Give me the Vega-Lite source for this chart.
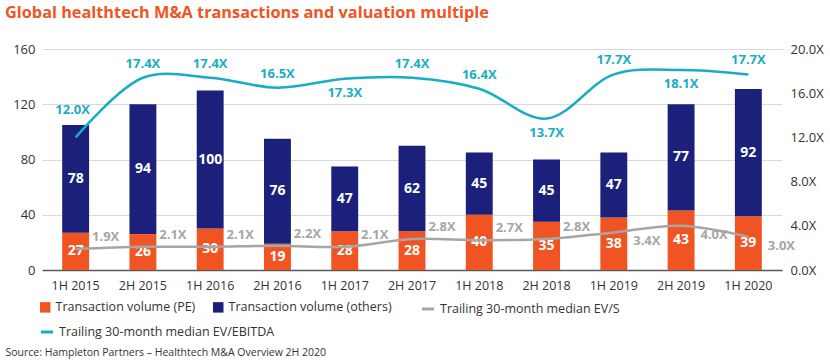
{
  "$schema": "https://vega.github.io/schema/vega-lite/v6.json",
  "width": 740,
  "height": 221,
  "autosize": "none",
  "padding": {"left": 42, "top": 49, "right": 48, "bottom": 90},
  "background": "white",
  "config": {
    "font": "Open Sans",
    "view": {"stroke": null},
    "axis": {"labelFont": "Open Sans", "labelColor": "#333333", "labelFontSize": 13, "ticks": false, "domain": false},
    "legend": {"title": null, "labelFontSize": 12.5, "labelColor": "#333333", "labelFont": "Open Sans", "labelLimit": 0, "orient": "none", "direction": "horizontal"}
  },
  "title": {
    "text": "Global healthtech M&A transactions and valuation multiple",
    "anchor": "start",
    "frame": "group",
    "dx": -37,
    "offset": 22,
    "fontSize": 16.3,
    "fontWeight": "bold",
    "font": "Open Sans",
    "color": "#F05423"
  },
  "datasets": {
    "bars": [
      {"period": "1H 2015", "series": "Transaction volume (PE)", "value": 27},
      {"period": "1H 2015", "series": "Transaction volume (others)", "value": 78},
      {"period": "2H 2015", "series": "Transaction volume (PE)", "value": 26},
      {"period": "2H 2015", "series": "Transaction volume (others)", "value": 94},
      {"period": "1H 2016", "series": "Transaction volume (PE)", "value": 30},
      {"period": "1H 2016", "series": "Transaction volume (others)", "value": 100},
      {"period": "2H 2016", "series": "Transaction volume (PE)", "value": 19},
      {"period": "2H 2016", "series": "Transaction volume (others)", "value": 76},
      {"period": "1H 2017", "series": "Transaction volume (PE)", "value": 28},
      {"period": "1H 2017", "series": "Transaction volume (others)", "value": 47},
      {"period": "2H 2017", "series": "Transaction volume (PE)", "value": 28},
      {"period": "2H 2017", "series": "Transaction volume (others)", "value": 62},
      {"period": "1H 2018", "series": "Transaction volume (PE)", "value": 40},
      {"period": "1H 2018", "series": "Transaction volume (others)", "value": 45},
      {"period": "2H 2018", "series": "Transaction volume (PE)", "value": 35},
      {"period": "2H 2018", "series": "Transaction volume (others)", "value": 45},
      {"period": "1H 2019", "series": "Transaction volume (PE)", "value": 38},
      {"period": "1H 2019", "series": "Transaction volume (others)", "value": 47},
      {"period": "2H 2019", "series": "Transaction volume (PE)", "value": 43},
      {"period": "2H 2019", "series": "Transaction volume (others)", "value": 77},
      {"period": "1H 2020", "series": "Transaction volume (PE)", "value": 39},
      {"period": "1H 2020", "series": "Transaction volume (others)", "value": 92}
    ],
    "lines": [
      {"period": "1H 2015", "series": "Trailing 30-month median EV/S", "value": 1.9},
      {"period": "2H 2015", "series": "Trailing 30-month median EV/S", "value": 2.1},
      {"period": "1H 2016", "series": "Trailing 30-month median EV/S", "value": 2.1},
      {"period": "2H 2016", "series": "Trailing 30-month median EV/S", "value": 2.2},
      {"period": "1H 2017", "series": "Trailing 30-month median EV/S", "value": 2.1},
      {"period": "2H 2017", "series": "Trailing 30-month median EV/S", "value": 2.8},
      {"period": "1H 2018", "series": "Trailing 30-month median EV/S", "value": 2.7},
      {"period": "2H 2018", "series": "Trailing 30-month median EV/S", "value": 2.8},
      {"period": "1H 2019", "series": "Trailing 30-month median EV/S", "value": 3.4},
      {"period": "2H 2019", "series": "Trailing 30-month median EV/S", "value": 4.0},
      {"period": "1H 2020", "series": "Trailing 30-month median EV/S", "value": 3.0},
      {"period": "1H 2015", "series": "Trailing 30-month median EV/EBITDA", "value": 12.0},
      {"period": "2H 2015", "series": "Trailing 30-month median EV/EBITDA", "value": 17.4},
      {"period": "1H 2016", "series": "Trailing 30-month median EV/EBITDA", "value": 17.4},
      {"period": "2H 2016", "series": "Trailing 30-month median EV/EBITDA", "value": 16.5},
      {"period": "1H 2017", "series": "Trailing 30-month median EV/EBITDA", "value": 17.3},
      {"period": "2H 2017", "series": "Trailing 30-month median EV/EBITDA", "value": 17.4},
      {"period": "1H 2018", "series": "Trailing 30-month median EV/EBITDA", "value": 16.4},
      {"period": "2H 2018", "series": "Trailing 30-month median EV/EBITDA", "value": 13.7},
      {"period": "1H 2019", "series": "Trailing 30-month median EV/EBITDA", "value": 17.7},
      {"period": "2H 2019", "series": "Trailing 30-month median EV/EBITDA", "value": 18.1},
      {"period": "1H 2020", "series": "Trailing 30-month median EV/EBITDA", "value": 17.7}
    ]
  },
  "layer": [
    {
      "data": {"name": "bars"},
      "layer": [
        {
          "mark": {"type": "bar"},
          "encoding": {
            "x": {
              "field": "period", "type": "nominal", "sort": null,
              "scale": {"paddingInner": 0.6, "paddingOuter": 0.3},
              "axis": {
                "labelAngle": 0, "labelPadding": 9, "labelFontSize": 12.5,
                "domain": true, "domainColor": "#595959", "domainWidth": 1.5,
                "title": "Source: Hampleton Partners \u2013 Healthtech M&A Overview 2H 2020",
                "titleFontSize": 10.5, "titleFontWeight": "normal", "titleColor": "#333333",
                "titleAnchor": "start", "titleAlign": "left", "titleBaseline": "middle", "titleX": -37, "titleY": 82, "titleFont": "Open Sans"
              }
            },
            "y": {
              "field": "value", "type": "quantitative", "aggregate": "sum", "stack": "zero",
              "scale": {"domain": [0, 160]},
              "axis": {"values": [0, 40, 80, 120, 160], "title": null, "grid": true, "gridColor": "#d9d9d9", "labelPadding": 7}
            },
            "fill": {
              "field": "series", "type": "nominal",
              "scale": {
                "domain": ["Transaction volume (PE)", "Transaction volume (others)"],
                "range": ["#F05423", "#1B217B"]
              },
              "legend": {"legendX": -3, "legendY": 252, "symbolType": "square", "symbolSize": 110, "columnPadding": 16}
            },
            "order": {"field": "series", "sort": "ascending"}
          }
        },
        {
          "transform": [
            {"stack": "value", "groupby": ["period"], "sort": [{"field": "series", "order": "ascending"}], "as": ["v0", "v1"]},
            {"calculate": "(datum.v0 + datum.v1) / 2", "as": "mid"}
          ],
          "mark": {"type": "text", "color": "white", "fontWeight": "bold", "fontSize": 14, "baseline": "middle"},
          "encoding": {
            "x": {"field": "period", "type": "nominal", "sort": null},
            "y": {"field": "mid", "type": "quantitative"},
            "text": {"field": "value", "type": "quantitative"}
          }
        }
      ]
    },
    {
      "data": {"name": "lines"},
      "transform": [{"calculate": "format(datum.value, '.1f') + 'X'", "as": "label"}],
      "layer": [
        {
          "transform": [{"filter": "datum.series == 'Trailing 30-month median EV/S'"}],
          "mark": {"type": "line", "interpolate": "catmull-rom", "strokeWidth": 2.5},
          "encoding": {
            "x": {"field": "period", "type": "nominal", "sort": null},
            "y": {
              "field": "value", "type": "quantitative",
              "scale": {"domain": [0, 20]},
              "axis": {"orient": "right", "values": [0, 4, 8, 12, 16, 20], "labelExpr": "format(datum.value, '.1f') + 'X'", "title": null, "grid": false, "labelPadding": 8}
            },
            "stroke": {
              "field": "series", "type": "nominal",
              "scale": {"range": ["#A6A6A6"]},
              "legend": {"legendX": 378, "legendY": 252, "symbolType": "stroke", "symbolSize": 150, "symbolStrokeWidth": 3}
            }
          }
        },
        {
          "transform": [{"filter": "datum.series == 'Trailing 30-month median EV/EBITDA'"}],
          "mark": {"type": "line", "interpolate": "catmull-rom", "strokeWidth": 2.5},
          "encoding": {
            "x": {"field": "period", "type": "nominal", "sort": null},
            "y": {"field": "value", "type": "quantitative"},
            "color": {
              "field": "series", "type": "nominal",
              "scale": {"range": ["#17AEC3"]},
              "legend": {"legendX": -3, "legendY": 275, "symbolType": "stroke", "symbolSize": 150, "symbolStrokeWidth": 3}
            }
          }
        },
        {
          "transform": [{"filter": "datum.series == 'Trailing 30-month median EV/S' && indexof(['1H 2019','2H 2019','1H 2020'], datum.period) < 0"}],
          "mark": {"type": "text", "color": "#A6A6A6", "fontWeight": "bold", "fontSize": 13, "dx": 30, "dy": -12},
          "encoding": {
            "x": {"field": "period", "type": "nominal", "sort": null},
            "y": {"field": "value", "type": "quantitative"},
            "text": {"field": "label"}
          }
        },
        {
          "transform": [{"filter": "datum.series == 'Trailing 30-month median EV/S' && indexof(['1H 2019','2H 2019','1H 2020'], datum.period) >= 0"}],
          "mark": {"type": "text", "color": "#A6A6A6", "fontWeight": "bold", "fontSize": 13, "dx": 33, "dy": 9},
          "encoding": {
            "x": {"field": "period", "type": "nominal", "sort": null},
            "y": {"field": "value", "type": "quantitative"},
            "text": {"field": "label"}
          }
        },
        {
          "transform": [{"filter": "datum.series == 'Trailing 30-month median EV/EBITDA' && indexof(['1H 2015','1H 2017','2H 2018','2H 2019'], datum.period) < 0"}],
          "mark": {"type": "text", "color": "#17AEC3", "fontWeight": "bold", "fontSize": 13, "dy": -14},
          "encoding": {
            "x": {"field": "period", "type": "nominal", "sort": null},
            "y": {"field": "value", "type": "quantitative"},
            "text": {"field": "label"}
          }
        },
        {
          "transform": [{"filter": "datum.series == 'Trailing 30-month median EV/EBITDA' && datum.period == '1H 2015'"}],
          "mark": {"type": "text", "color": "#17AEC3", "fontWeight": "bold", "fontSize": 13, "dy": -27, "dx": -3},
          "encoding": {
            "x": {"field": "period", "type": "nominal", "sort": null},
            "y": {"field": "value", "type": "quantitative"},
            "text": {"field": "label"}
          }
        },
        {
          "transform": [{"filter": "datum.series == 'Trailing 30-month median EV/EBITDA' && indexof(['1H 2017','2H 2018','2H 2019'], datum.period) >= 0"}],
          "mark": {"type": "text", "color": "#17AEC3", "fontWeight": "bold", "fontSize": 13, "dy": 14},
          "encoding": {
            "x": {"field": "period", "type": "nominal", "sort": null},
            "y": {"field": "value", "type": "quantitative"},
            "text": {"field": "label"}
          }
        }
      ]
    }
  ],
  "resolve": {"scale": {"y": "independent"}}
}
